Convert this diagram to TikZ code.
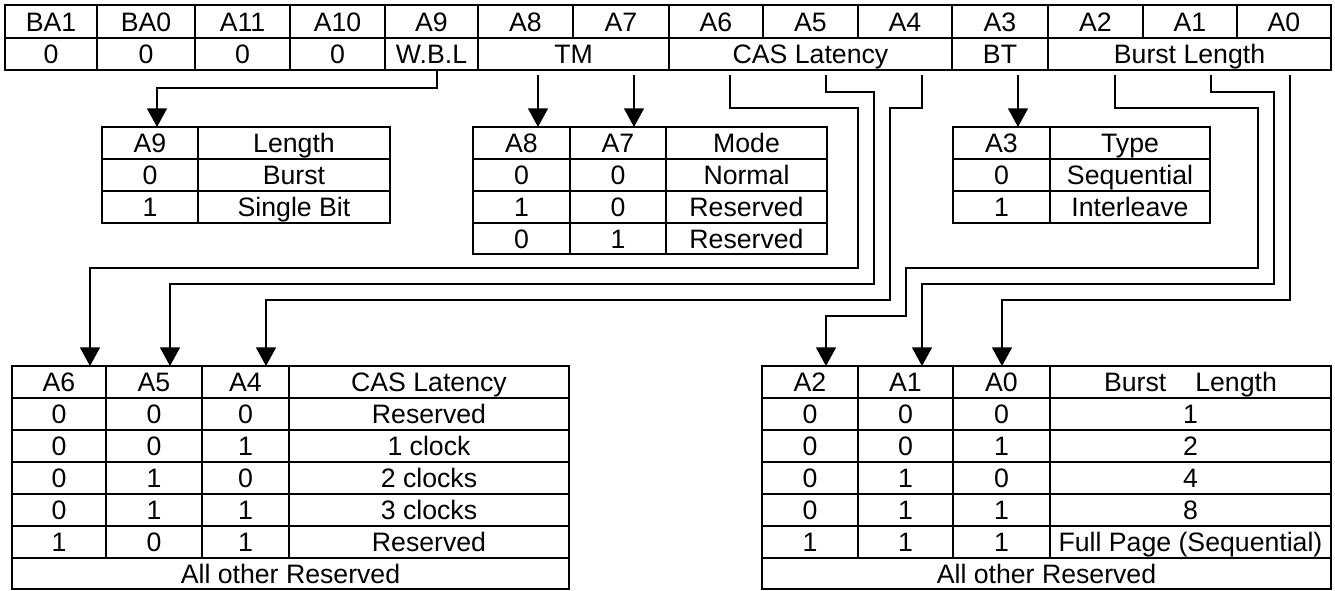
\documentclass[tikz,border=0pt]{standalone}
\usepackage{fontspec}
\setmainfont{Liberation Sans}
\usetikzlibrary{arrows.meta}
\begin{document}
\begin{tikzpicture}[x=0.75pt,y=-0.75pt,
  grid/.style={line width=1.4pt},
  conn/.style={line width=1.1pt},
  arr/.style={conn,-{Triangle[width=15pt,length=14pt]}},
  txt/.style={inner sep=0pt,text height=14.3pt,text depth=0pt,font=\fontsize{20}{24}\selectfont},
]
\useasboundingbox (0,0) rectangle (1335,590);

% ---------- top register table ----------
\draw[grid] (5,5) rectangle (1331,70);
\draw[grid] (5,38) -- (1331,38);
\foreach \x in {97,195,290,385,478,573,669,763,858,952,1048,1143,1237}
  \draw[grid] (\x,5) -- (\x,38);
\foreach \x in {97,195,290,385,478,669,952,1048}
  \draw[grid] (\x,38) -- (\x,70);
\foreach \l/\a/\b [count=\i] in {BA1/5/97,BA0/97/195,A11/195/290,A10/290/385,A9/385/478,A8/478/573,A7/573/669,A6/669/763,A5/763/858,A4/858/952,A3/952/1048,A2/1048/1143,A1/1143/1237,A0/1237/1331}
  \node[txt] (t\i) at ({(\a+\b)/2},21.5) {\l};
\foreach \l/\a/\b [count=\i] in {0/5/97,0/97/195,0/195/290,0/290/385,W.B.L/385/478,TM/478/669,CAS Latency/669/952,BT/952/1048,Burst Length/1048/1331}
  \node[txt] (b\i) at ({(\a+\b)/2},54) {\l};

% ---------- A9 table ----------
\draw[grid] (102,127) rectangle (390,223);
\draw[grid] (102,159) -- (390,159) (102,191) -- (390,191) (198,127) -- (198,223);
\node[txt] (wa1) at (150,143) {A9};
\node[txt] (wb1) at (294,143) {Length};
\node[txt] (wa2) at (150,175) {0};
\node[txt] (wb2) at (294,175) {Burst};
\node[txt] (wa3) at (150,207) {1};
\node[txt] (wb3) at (294,207) {Single Bit};

% ---------- Mode table ----------
\draw[grid] (473,127) rectangle (827,254);
\draw[grid] (473,159) -- (827,159) (473,191) -- (827,191) (473,223) -- (827,223)
  (570,127) -- (570,254) (666,127) -- (666,254);
\foreach \p/\q/\r [count=\i] in {A8/A7/Mode,0/0/Normal,1/0/Reserved,0/1/Reserved}{
  \node[txt] (ma\i) at (521.5,{111+32*\i}) {\p};
  \node[txt] (mb\i) at (618,{111+32*\i}) {\q};
  \node[txt] (mc\i) at (746.5,{111+32*\i}) {\r};
}

% ---------- Type table ----------
\draw[grid] (953,127) rectangle (1210,223);
\draw[grid] (953,159) -- (1210,159) (953,191) -- (1210,191) (1050,127) -- (1050,223);
\node[txt] (ya1) at (1001.5,143) {A3};
\node[txt] (yb1) at (1130,143) {Type};
\node[txt] (ya2) at (1001.5,175) {0};
\node[txt] (yb2) at (1130,175) {Sequential};
\node[txt] (ya3) at (1001.5,207) {1};
\node[txt] (yb3) at (1130,207) {Interleave};

% ---------- CAS latency table ----------
\draw[grid] (12,366) rectangle (569,589);
\foreach \y in {398,430,462,494,526,558} \draw[grid] (12,\y) -- (569,\y);
\foreach \x in {106,202,289} \draw[grid] (\x,366) -- (\x,558);
\foreach \p/\q/\r/\s [count=\i] in {A6/A5/A4/CAS Latency,0/0/0/Reserved,0/0/1/1 clock,0/1/0/2 clocks,0/1/1/3 clocks,1/0/1/Reserved}{
  \node[txt] (ca\i) at (59,{350+32*\i}) {\p};
  \node[txt] (cb\i) at (154,{350+32*\i}) {\q};
  \node[txt] (cc\i) at (245.5,{350+32*\i}) {\r};
  \node[txt] (cd\i) at (429,{350+32*\i}) {\s};
}
\node[txt] (call) at (290.5,573.5) {All other Reserved};

% ---------- Burst length table ----------
\draw[grid] (762,366) rectangle (1331,589);
\foreach \y in {398,430,462,494,526,558} \draw[grid] (762,\y) -- (1331,\y);
\foreach \x in {858,953,1050} \draw[grid] (\x,366) -- (\x,558);
\foreach \p/\q/\r/\s [count=\i] in {A2/A1/A0/{Burst\hspace{21.75pt}Length},0/0/0/1,0/0/1/2,0/1/0/4,0/1/1/8,1/1/1/Full Page (Sequential)}{
  \node[txt] (la\i) at (810,{350+32*\i}) {\p};
  \node[txt] (lb\i) at (905.5,{350+32*\i}) {\q};
  \node[txt] (lc\i) at (1001.5,{350+32*\i}) {\r};
  \node[txt] (ld\i) at (1190.5,{350+32*\i}) {\s};
}
\node[txt] (lall) at (1046.5,573.5) {All other Reserved};

% ---------- connector end points ----------
\coordinate (sWBL) at (437,70);   \coordinate (eWBL) at (157,127);
\coordinate (sA8) at (538,75);    \coordinate (eA8) at (538,127);
\coordinate (sA7) at (634,75);    \coordinate (eA7) at (634,127);
\coordinate (sA3) at (1018,75);   \coordinate (eA3) at (1018,127);
\coordinate (sA6) at (730,75);    \coordinate (eA6) at (90,366);
\coordinate (sA5) at (826,75);    \coordinate (eA5) at (170,366);
\coordinate (sA4) at (922,75);    \coordinate (eA4) at (266,366);
\coordinate (sA2) at (1115,75);   \coordinate (eA2) at (826,366);
\coordinate (sA1) at (1211,75);   \coordinate (eA1) at (922,366);
\coordinate (sA0) at (1290,75);   \coordinate (eA0) at (1002,366);

% ---------- connectors ----------
\draw[arr] (sWBL) -- (437,88) -- (157,88) -- (eWBL);
\draw[arr] (sA8) -- (eA8);
\draw[arr] (sA7) -- (eA7);
\draw[arr] (sA3) -- (eA3);
\draw[arr] (sA6) -- (730,108) -- (858,108) -- (858,268) -- (90,268) -- (eA6);
\draw[arr] (sA5) -- (826,92) -- (874,92) -- (874,284) -- (170,284) -- (eA5);
\draw[arr] (sA4) -- (922,108) -- (890,108) -- (890,300) -- (266,300) -- (eA4);
\draw[arr] (sA2) -- (1115,108) -- (1258,108) -- (1258,268) -- (906,268) -- (906,316) -- (826,316) -- (eA2);
\draw[arr] (sA1) -- (1211,92) -- (1274,92) -- (1274,284) -- (922,284) -- (eA1);
\draw[arr] (sA0) -- (1290,300) -- (1002,300) -- (eA0);
\end{tikzpicture}
\end{document}
